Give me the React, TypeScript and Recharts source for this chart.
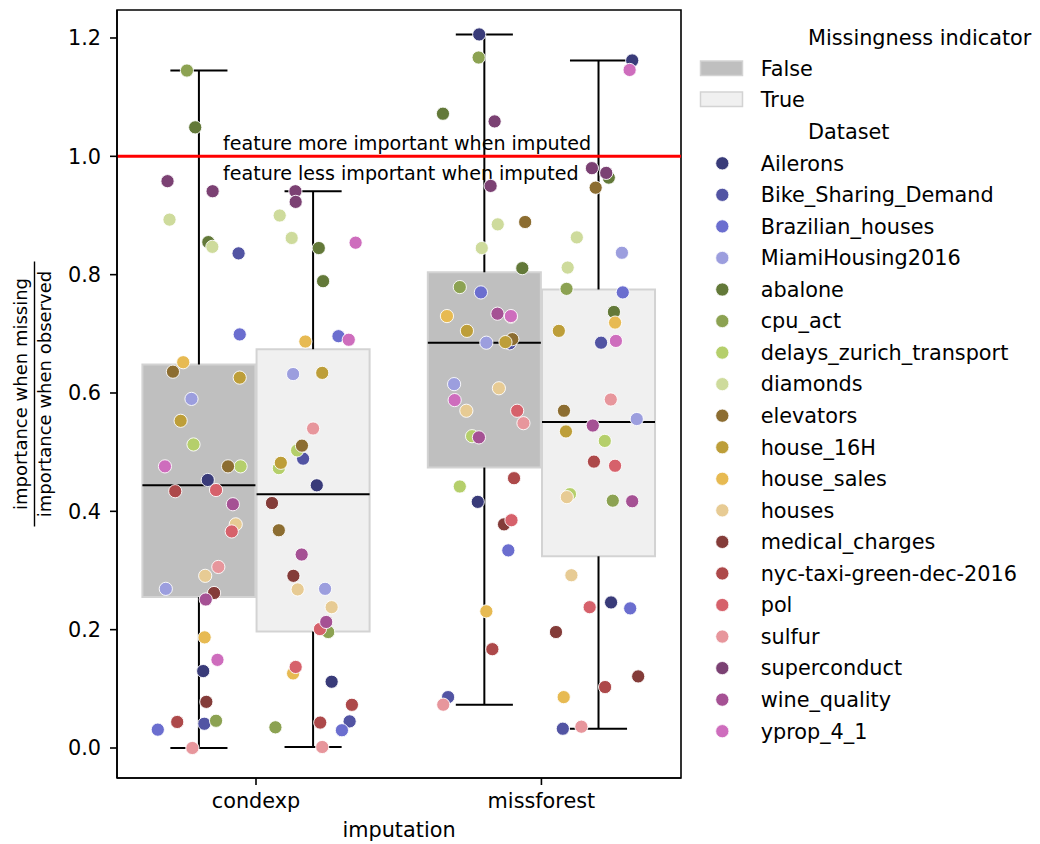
import React from 'react';
import { ComposedChart, XAxis, YAxis, Scatter, ReferenceArea, ReferenceLine, Legend } from 'recharts';

const FONT = '"DejaVu Sans", Verdana, sans-serif';

const categories = ['condexp', 'missforest'];
const missingness = ['False', 'True'];
const missingFill = ['#bfbfbf', '#f0f0f0'];

const datasets = [
  'Ailerons', 'Bike_Sharing_Demand', 'Brazilian_houses', 'MiamiHousing2016', 'abalone',
  'cpu_act', 'delays_zurich_transport', 'diamonds', 'elevators', 'house_16H',
  'house_sales', 'houses', 'medical_charges', 'nyc-taxi-green-dec-2016', 'pol',
  'sulfur', 'superconduct', 'wine_quality', 'yprop_4_1',
];
// tab20b
const datasetColors = [
  '#393b79', '#5254a3', '#6b6ecf', '#9c9ede', '#637939',
  '#8ca252', '#b5cf6b', '#cedb9c', '#8c6d31', '#bd9e39',
  '#e7ba52', '#e7cb94', '#843c39', '#ad494a', '#d6616b',
  '#e7969c', '#7b4173', '#a55194', '#ce6dbd',
];

// box stats, order: condexp/False, condexp/True, missforest/False, missforest/True
const boxMin = [0.0, 0.0017, 0.0732, 0.0326];
const boxQ1 = [0.255, 0.197, 0.474, 0.324];
const boxMedian = [0.444, 0.429, 0.685, 0.551];
const boxQ3 = [0.648, 0.674, 0.804, 0.775];
const boxMax = [1.145, 0.941, 1.206, 1.162];

// [dataset, jitter offset from the box centre, ratio]
type Point = [string, number, number];

const condexpFalse: Point[] = [
  ['cpu_act', -0.042, 1.145], ['abalone', -0.013, 1.049], ['superconduct', -0.110, 0.958],
  ['superconduct', 0.048, 0.941], ['diamonds', -0.103, 0.893], ['abalone', 0.033, 0.855],
  ['diamonds', 0.047, 0.847], ['Bike_Sharing_Demand', 0.139, 0.836], ['Brazilian_houses', 0.143, 0.699],
  ['house_sales', -0.055, 0.652], ['elevators', -0.091, 0.636], ['house_16H', 0.143, 0.626],
  ['MiamiHousing2016', -0.026, 0.590], ['house_16H', -0.064, 0.553], ['delays_zurich_transport', -0.019, 0.513],
  ['yprop_4_1', -0.119, 0.476], ['elevators', 0.102, 0.476], ['delays_zurich_transport', 0.146, 0.476],
  ['Ailerons', 0.031, 0.453], ['nyc-taxi-green-dec-2016', -0.083, 0.434], ['pol', 0.060, 0.436],
  ['wine_quality', 0.119, 0.412], ['houses', 0.129, 0.378], ['pol', 0.115, 0.366],
  ['sulfur', 0.068, 0.306], ['houses', 0.022, 0.291], ['MiamiHousing2016', -0.116, 0.269],
  ['medical_charges', 0.053, 0.262], ['wine_quality', 0.024, 0.251], ['house_sales', 0.020, 0.187],
  ['yprop_4_1', 0.065, 0.149], ['Ailerons', 0.015, 0.130], ['medical_charges', 0.026, 0.078],
  ['nyc-taxi-green-dec-2016', -0.076, 0.044], ['Bike_Sharing_Demand', 0.019, 0.041], ['cpu_act', 0.060, 0.046],
  ['Brazilian_houses', -0.144, 0.031], ['sulfur', -0.023, 0.0],
];

const condexpTrue: Point[] = [
  ['superconduct', -0.062, 0.941], ['superconduct', -0.061, 0.923], ['diamonds', -0.117, 0.900],
  ['diamonds', -0.075, 0.862], ['abalone', 0.020, 0.845], ['yprop_4_1', 0.149, 0.854],
  ['abalone', 0.035, 0.789], ['house_sales', -0.027, 0.687], ['Brazilian_houses', 0.089, 0.696],
  ['yprop_4_1', 0.125, 0.690], ['MiamiHousing2016', -0.070, 0.632], ['house_16H', 0.032, 0.634],
  ['sulfur', 0.0, 0.540], ['delays_zurich_transport', -0.056, 0.503], ['elevators', -0.039, 0.511],
  ['Bike_Sharing_Demand', -0.035, 0.489], ['house_16H', -0.113, 0.482], ['delays_zurich_transport', -0.120, 0.473],
  ['Ailerons', 0.013, 0.444], ['medical_charges', -0.144, 0.414], ['elevators', -0.120, 0.368],
  ['wine_quality', -0.040, 0.327], ['medical_charges', -0.069, 0.291], ['houses', -0.054, 0.268],
  ['MiamiHousing2016', 0.042, 0.269], ['houses', 0.065, 0.238], ['wine_quality', 0.046, 0.213],
  ['pol', 0.024, 0.201], ['cpu_act', 0.053, 0.196], ['pol', -0.061, 0.137],
  ['house_sales', -0.070, 0.126], ['Ailerons', 0.065, 0.112], ['nyc-taxi-green-dec-2016', 0.136, 0.073],
  ['cpu_act', -0.132, 0.035], ['nyc-taxi-green-dec-2016', 0.025, 0.043], ['Bike_Sharing_Demand', 0.128, 0.045],
  ['Brazilian_houses', 0.101, 0.030], ['sulfur', 0.032, 0.0017],
];

const missforestFalse: Point[] = [
  ['Ailerons', -0.018, 1.206], ['cpu_act', -0.020, 1.167], ['abalone', -0.145, 1.072],
  ['superconduct', 0.036, 1.059], ['superconduct', 0.022, 0.950], ['diamonds', 0.047, 0.885],
  ['elevators', 0.143, 0.889], ['diamonds', -0.009, 0.845], ['abalone', 0.133, 0.811],
  ['cpu_act', -0.086, 0.779], ['Brazilian_houses', -0.012, 0.770], ['house_sales', -0.131, 0.730],
  ['wine_quality', 0.046, 0.734], ['medical_charges', 0.093, 0.729], ['yprop_4_1', 0.093, 0.730],
  ['house_16H', -0.061, 0.705], ['MiamiHousing2016', 0.007, 0.685], ['elevators', 0.098, 0.691],
  ['Bike_Sharing_Demand', 0.089, 0.684], ['house_16H', 0.074, 0.686], ['MiamiHousing2016', -0.106, 0.615],
  ['houses', 0.051, 0.608], ['yprop_4_1', -0.104, 0.588], ['houses', -0.063, 0.570],
  ['pol', 0.115, 0.570], ['sulfur', 0.137, 0.549], ['delays_zurich_transport', -0.043, 0.527],
  ['wine_quality', -0.019, 0.525], ['delays_zurich_transport', -0.086, 0.442], ['nyc-taxi-green-dec-2016', 0.104, 0.456],
  ['Ailerons', -0.023, 0.416], ['medical_charges', 0.069, 0.378], ['pol', 0.095, 0.385],
  ['Brazilian_houses', 0.084, 0.334], ['house_sales', 0.007, 0.231], ['nyc-taxi-green-dec-2016', 0.028, 0.167],
  ['Bike_Sharing_Demand', -0.127, 0.086], ['sulfur', -0.144, 0.0732],
];

const missforestTrue: Point[] = [
  ['Ailerons', 0.118, 1.162], ['yprop_4_1', 0.109, 1.146], ['superconduct', -0.023, 0.980],
  ['abalone', 0.036, 0.964], ['superconduct', 0.027, 0.972], ['elevators', -0.010, 0.947],
  ['diamonds', -0.076, 0.863], ['MiamiHousing2016', 0.082, 0.837], ['diamonds', -0.108, 0.812],
  ['cpu_act', -0.112, 0.776], ['Brazilian_houses', 0.085, 0.770], ['abalone', 0.054, 0.737],
  ['house_sales', 0.058, 0.719], ['house_16H', -0.139, 0.705], ['Bike_Sharing_Demand', 0.009, 0.685],
  ['yprop_4_1', 0.061, 0.688], ['sulfur', 0.043, 0.589], ['elevators', -0.121, 0.570],
  ['wine_quality', -0.020, 0.545], ['MiamiHousing2016', 0.134, 0.556], ['house_16H', -0.114, 0.535],
  ['delays_zurich_transport', 0.022, 0.519], ['nyc-taxi-green-dec-2016', -0.016, 0.484], ['pol', 0.058, 0.477],
  ['delays_zurich_transport', -0.100, 0.429], ['houses', -0.111, 0.424], ['cpu_act', 0.050, 0.418],
  ['wine_quality', 0.118, 0.417], ['houses', -0.095, 0.292], ['pol', -0.031, 0.238],
  ['Ailerons', 0.044, 0.246], ['Brazilian_houses', 0.111, 0.236], ['medical_charges', -0.149, 0.196],
  ['medical_charges', 0.139, 0.121], ['nyc-taxi-green-dec-2016', 0.023, 0.103], ['house_sales', -0.122, 0.086],
  ['Bike_Sharing_Demand', -0.125, 0.0326], ['sulfur', -0.060, 0.036],
];

const groupPoints = [condexpFalse, condexpTrue, missforestFalse, missforestTrue];

const HUE_OFFSET = 0.2;
const BOX_HALF = 0.198;
const CAP_HALF = 0.1;
// group g -> category g>>1, hue g&1
const groupCenter = (g: number) => (g >> 1) + (g % 2 === 0 ? -HUE_OFFSET : HUE_OFFSET);

const seriesByDataset = datasets.map((name) =>
  groupPoints.flatMap((pts, g) =>
    pts.filter((p) => p[0] === name).map((p) => ({ x: groupCenter(g) + p[1], y: p[2] }))
  )
);

const X_DOMAIN: [number, number] = [-0.487, 1.489];
const Y_DOMAIN: [number, number] = [-0.0507, 1.2473];
const Y_TICKS = [0, 0.2, 0.4, 0.6, 0.8, 1.0, 1.2];

const AXIS = { stroke: '#000', strokeWidth: 1.6 };
const TICK_TEXT = { fill: '#000', fontSize: 20.8, fontFamily: FONT };

function ThresholdText(props: any) {
  const vb = props.viewBox || { x: 117, y: 156.5 };
  const x = vb.x + 106;
  return (
    <g fontFamily={FONT} fontSize={19.1} fill="#000">
      <text x={x} y={vb.y - 6}>feature more important when imputed</text>
      <text x={x} y={vb.y + 24}>feature less important when imputed</text>
    </g>
  );
}

function RatioLabel(props: any) {
  const vb = props.viewBox || { x: 0, y: 10, width: 117, height: 768 };
  const cy = vb.y + vb.height / 2;
  const barX = 34.5;
  return (
    <g fontFamily={FONT} fontSize={18} fill="#000">
      <text x={27} y={cy} textAnchor="middle" transform={`rotate(-90, 27, ${cy})`}>
        importance when missing
      </text>
      <line x1={barX} x2={barX} y1={cy - 132.5} y2={cy + 132.5} stroke="#000" strokeWidth={1.4} />
      <text x={51} y={cy} textAnchor="middle" transform={`rotate(-90, 51, ${cy})`}>
        importance when observed
      </text>
    </g>
  );
}

function ImputationLabel(props: any) {
  const vb = props.viewBox || { x: 117, y: 778, width: 564, height: 66 };
  return (
    <text x={vb.x + vb.width / 2} y={836.5} textAnchor="middle" fontFamily={FONT} fontSize={20.8} fill="#000">
      imputation
    </text>
  );
}

function LegendBlock() {
  const rowY = (i: number) => 163.3 + 31.55 * i;
  return (
    <svg width={350} height={760} style={{ display: 'block', overflow: 'visible' }}>
      <g fontFamily={FONT} fontSize={20.8} fill="#000" transform="translate(-690, 0)">
        <text x={808} y={45}>Missingness indicator</text>
        {missingness.map((m, i) => (
          <g key={m}>
            <rect x={700.5} y={61 + 31 * i} width={42} height={14.5} fill={missingFill[i]} stroke="#d3d3d3" strokeWidth={1.5} />
            <text x={760.7} y={76 + 31 * i}>{m}</text>
          </g>
        ))}
        <text x={808} y={138.5}>Dataset</text>
        {datasets.map((d, i) => (
          <g key={d}>
            <circle cx={722.3} cy={rowY(i)} r={6.6} fill={datasetColors[i]} stroke="#fff" strokeWidth={0.8} />
            <text x={760.7} y={rowY(i) + 7.3}>{d}</text>
          </g>
        ))}
      </g>
    </svg>
  );
}

export default function App() {
  return (
    <div style={{ position: 'absolute', left: 0, top: 0, width: 1040, height: 844, background: '#fff' }}>
      <ComposedChart width={1040} height={844} margin={{ top: 10, right: 359, bottom: 0, left: 0 }}>
        <XAxis
          type="number"
          dataKey="x"
          domain={X_DOMAIN}
          ticks={[0, 1]}
          interval={0}
          tickFormatter={(v: number) => categories[v]}
          height={66}
          tickSize={7}
          tickMargin={8}
          axisLine={AXIS}
          tickLine={AXIS}
          tick={TICK_TEXT}
          allowDataOverflow
          label={<ImputationLabel />}
        />
        <YAxis
          type="number"
          dataKey="y"
          domain={Y_DOMAIN}
          ticks={Y_TICKS}
          interval={0}
          tickFormatter={(v: number) => v.toFixed(1)}
          width={117}
          tickSize={7}
          tickMargin={9}
          axisLine={AXIS}
          tickLine={AXIS}
          tick={TICK_TEXT}
          allowDataOverflow
          label={<RatioLabel />}
        />

        {/* boxes */}
        {boxQ1.map((q1, g) => (
          <ReferenceArea
            key={`box-${g}`}
            x1={groupCenter(g) - BOX_HALF}
            x2={groupCenter(g) + BOX_HALF}
            y1={q1}
            y2={boxQ3[g]}
            fill={missingFill[g % 2]}
            fillOpacity={1}
            stroke="#d3d3d3"
            strokeWidth={2}
          />
        ))}

        {/* whiskers, caps and medians */}
        {boxQ1.map((q1, g) => {
          const c = groupCenter(g);
          const segs = [
            [{ x: c, y: q1 }, { x: c, y: boxMin[g] }],
            [{ x: c, y: boxQ3[g] }, { x: c, y: boxMax[g] }],
            [{ x: c - CAP_HALF, y: boxMin[g] }, { x: c + CAP_HALF, y: boxMin[g] }],
            [{ x: c - CAP_HALF, y: boxMax[g] }, { x: c + CAP_HALF, y: boxMax[g] }],
            [{ x: c - BOX_HALF, y: boxMedian[g] }, { x: c + BOX_HALF, y: boxMedian[g] }],
          ];
          return segs.map((s, k) => (
            <ReferenceLine key={`seg-${g}-${k}`} segment={s} stroke="#000" strokeWidth={2} ifOverflow="visible" />
          ));
        })}

        {datasets.map((name, i) => (
          <Scatter
            key={name}
            name={name}
            data={seriesByDataset[i]}
            dataKey="y"
            isAnimationActive={false}
            shape={(p: any) => (
              <circle cx={p.cx} cy={p.cy} r={6.6} fill={datasetColors[i]} stroke="#fff" strokeWidth={0.9} />
            )}
          />
        ))}

        <ReferenceLine y={1} stroke="#ff0000" strokeWidth={3} label={<ThresholdText />} />

        {/* frame */}
        <ReferenceArea x1={X_DOMAIN[0]} x2={X_DOMAIN[1]} y1={Y_DOMAIN[0]} y2={Y_DOMAIN[1]} fill="none" stroke="#000" strokeWidth={1.6} />

        <Legend
          layout="vertical"
          align="center"
          verticalAlign="middle"
          content={() => <LegendBlock />}
          wrapperStyle={{ position: 'absolute', left: 690, top: 0, width: 350, height: 760 }}
        />
      </ComposedChart>
    </div>
  );
}
